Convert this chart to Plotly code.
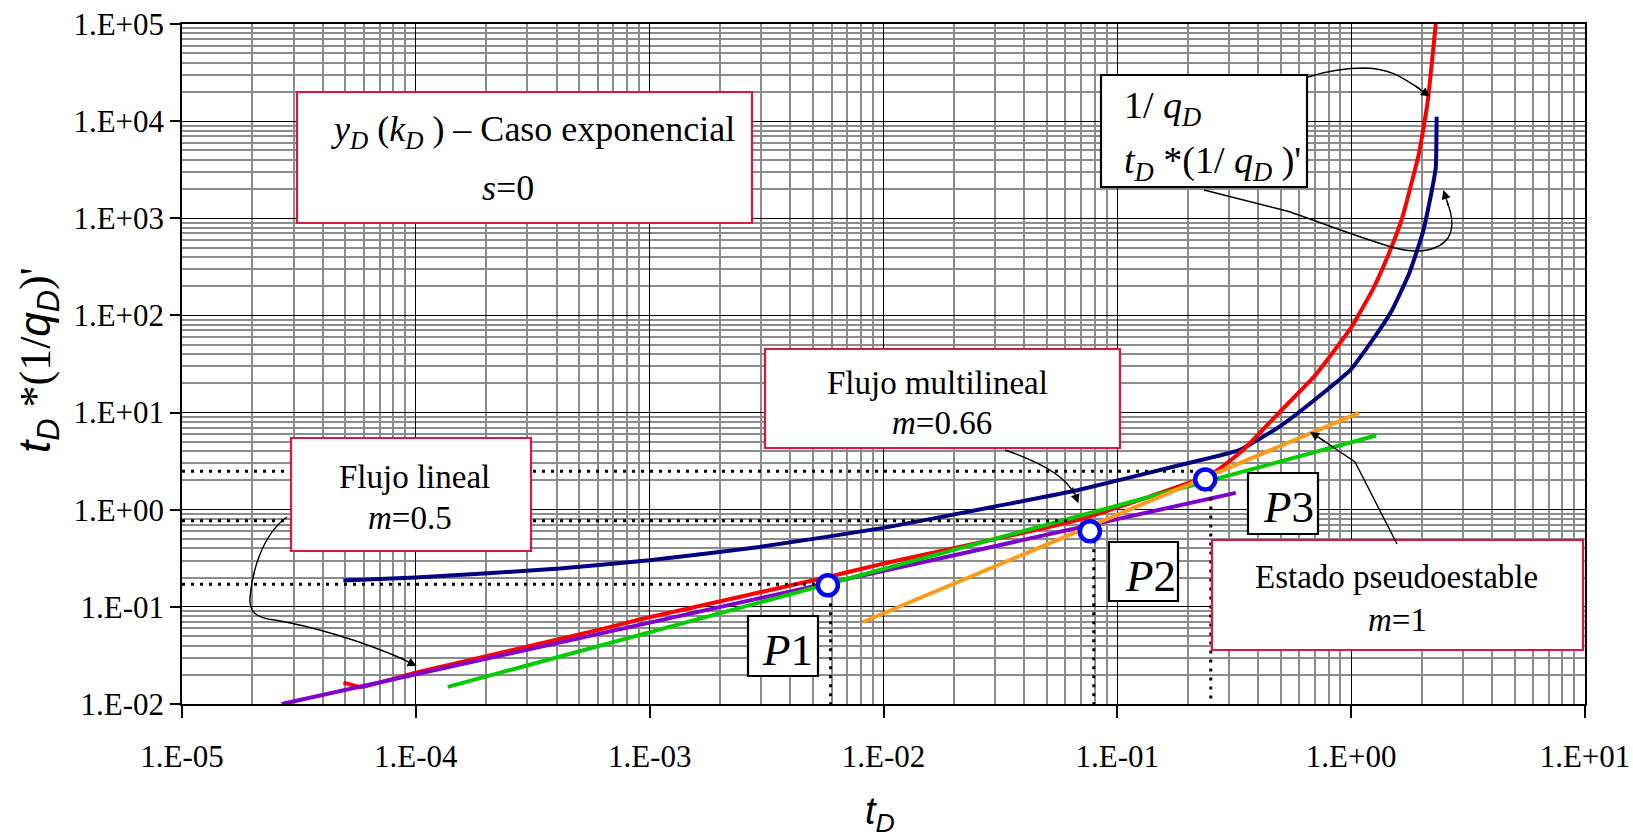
import plotly.graph_objects as go

# ---------------- data ----------------
# 1/qD response
td_inv_q = [4.9e-5, 5.86e-5, 1e-4, 6.1e-4, 9.05e-4, 5.78e-3, 1e-2, 0.0675, 0.255, 0.344,
            0.492, 0.70, 1.0, 1.233, 1.45, 1.65, 1.95, 2.12, 2.22, 2.30]
inv_q = [0.0166, 0.0150, 0.021, 0.0583, 0.074, 0.203, 0.279, 0.78, 2.36, 4.1,
         10.0, 24.0, 75.0, 182, 435, 1000, 4660, 15240, 42600, 1.0e5]

# tD*(1/qD)' derivative
td_deriv = [4.9e-5, 1e-4, 4.12e-4, 1e-3, 2.95e-3, 1e-2, 0.03, 0.0675, 0.184, 0.332,
            0.492, 0.684, 1.0, 1.318, 1.5, 1.77, 2.02, 2.2, 2.30, 2.32]
deriv = [0.187, 0.20, 0.248, 0.302, 0.414, 0.65, 1.08, 1.585, 2.87, 4.1,
         7.13, 13.0, 28.0, 70.0, 115.0, 270, 699, 1800, 3300, 11100]

# flow-regime straight lines
linear_td = [2.67e-5, 0.321]
linear_val = [0.01, 1.49]
multilinear_td = [1.37e-4, 1.28]
multilinear_val = [0.015, 5.81]
pss_td = [0.00817, 1.08]
pss_val = [0.0699, 9.93]

# intersection points
point_names = ["P1", "P2", "P3"]
point_td = [0.00578, 0.0763, 0.2377]
point_val = [0.1667, 0.600, 2.05]

# dotted read-off guides
guide_levels = [0.171, 0.771, 2.49]
guide_level_end_td = [0.0056, 0.0635, 0.213]
guide_td = [0.00594, 0.0793, 0.251]

x_tick_vals = [1e-5, 1e-4, 1e-3, 1e-2, 1e-1, 1, 10]
x_tick_text = ["1.E-05", "1.E-04", "1.E-03", "1.E-02", "1.E-01", "1.E+00", "1.E+01"]
y_tick_vals = [1e-2, 1e-1, 1, 10, 100, 1e3, 1e4, 1e5]
y_tick_text = ["1.E-02", "1.E-01", "1.E+00", "1.E+01", "1.E+02", "1.E+03", "1.E+04", "1.E+05"]

# ---------------- layout helpers ----------------
W, H = 1633, 837
ML, MR, MT, MB = 182, 48, 24, 133
PW, PH = W - ML - MR, H - MT - MB
SERIF = "Liberation Serif"
SANS = "Liberation Sans"
BOX_RED = "#DC1640"


def fx(xp):
    return (xp - ML) / PW


def fy(yp):
    return (MT + PH - yp) / PH


def path_to_paper(cmds):
    out = []
    for c, pts in cmds:
        out.append(c + " " + " ".join(f"{fx(a):.5f},{fy(b):.5f}" for a, b in pts))
    return " ".join(out)


def decade_minor(lo, hi):
    return [k * 10.0 ** e for e in range(lo, hi) for k in range(2, 10)]


fig = go.Figure()

fig.add_trace(go.Scatter(x=td_deriv, y=deriv, mode="lines",
                         line=dict(color="#000080", width=4, shape="spline", smoothing=0.4),
                         name="tD*(1/qD)'"))
fig.add_trace(go.Scatter(x=td_inv_q, y=inv_q, mode="lines",
                         line=dict(color="#FF0000", width=4, shape="spline", smoothing=0.4),
                         name="1/qD"))
fig.add_trace(go.Scatter(x=linear_td, y=linear_val, mode="lines",
                         line=dict(color="#8000CC", width=4), name="m=0.5"))
fig.add_trace(go.Scatter(x=multilinear_td, y=multilinear_val, mode="lines",
                         line=dict(color="#00CC00", width=4), name="m=0.66"))
fig.add_trace(go.Scatter(x=pss_td, y=pss_val, mode="lines",
                         line=dict(color="#FF9A1A", width=4), name="m=1"))

# dotted guides
for lvl, xe in zip(guide_levels, guide_level_end_td):
    fig.add_trace(go.Scatter(x=[x_tick_vals[0], xe], y=[lvl, lvl], mode="lines",
                             line=dict(color="black", width=3, dash="3px,6px")))
for xg, yv in zip(guide_td, point_val):
    fig.add_trace(go.Scatter(x=[xg, xg], y=[yv, y_tick_vals[0]], mode="lines",
                             line=dict(color="black", width=3, dash="3px,6px")))

fig.add_trace(go.Scatter(x=point_td, y=point_val, mode="markers",
                         marker=dict(symbol="circle", size=20, color="white",
                                     line=dict(color="#0000FF", width=4.5)),
                         name="P"))

# ---------------- boxes, connectors, texts ----------------
shapes = []
boxes = [
    (297, 92, 752, 223, BOX_RED),
    (765, 349, 1120, 448, BOX_RED),
    (291, 438, 531, 551, BOX_RED),
    (1212, 540, 1583, 650, BOX_RED),
    (1101, 75, 1307, 187, "black"),
    (748, 616, 818, 676, "black"),
    (1109, 542, 1178, 601, "black"),
    (1248, 473, 1318, 534, "black"),
]
for x0, y0, x1, y1, col in boxes:
    shapes.append(dict(type="rect", xref="paper", yref="paper",
                       x0=fx(x0), x1=fx(x1), y0=fy(y1), y1=fy(y0),
                       line=dict(color=col, width=2.2), fillcolor="white", layer="above"))

connectors = [
    [("M", [(287, 517)]), ("C", [(262, 535), (252, 572), (250, 598)]),
     ("C", [(249, 612), (256, 618), (275, 620)]), ("C", [(310, 626), (360, 640), (405, 660)])],
    [("M", [(1005, 450)]), ("C", [(1040, 462), (1066, 476), (1074, 494)])],
    [("M", [(1308, 77)]), ("C", [(1330, 70), (1345, 68), (1365, 68)]),
     ("C", [(1390, 69), (1400, 76), (1420, 89)])],
    [("M", [(1204, 190)]), ("L", [(1287, 211)]), ("C", [(1320, 222), (1360, 238), (1395, 248)]),
     ("C", [(1422, 255), (1440, 249), (1448, 238)]), ("C", [(1454, 228), (1452, 214), (1447, 202)])],
    [("M", [(1397, 544)]), ("L", [(1355, 462)]), ("L", [(1318, 437)])],
]
for c in connectors:
    shapes.append(dict(type="path", xref="paper", yref="paper", path=path_to_paper(c),
                       line=dict(color="black", width=1.4), layer="above"))

annotations = []
# arrowheads: (tip, tail)
heads = [((416.7, 666), (398, 657)), ((1078.3, 503.3), (1072, 486)),
         ((1430, 96.5), (1414, 85)), ((1443.3, 190), (1449, 207)),
         ((1310, 432), (1326, 442))]
for (tx, ty), (sx, sy) in heads:
    annotations.append(dict(x=fx(tx), y=fy(ty), xref="paper", yref="paper", text="",
                            showarrow=True, arrowhead=2, arrowsize=1.3, arrowwidth=1.4,
                            arrowcolor="black", ax=sx - tx, ay=sy - ty, standoff=0))

texts = [
    ("<i>y<sub>D</sub></i> (<i>k<sub>D</sub></i> ) – Caso exponencial", 533, 131, 36, "center"),
    ("<i>s</i>=0", 508, 188, 36, "center"),
    ("Flujo multilineal", 937, 383, 33, "center"),
    ("<i>m</i>=0.66", 942, 423, 33, "center"),
    ("Flujo lineal", 414, 477, 33, "center"),
    ("<i>m</i>=0.5", 410, 518, 33, "center"),
    ("Estado pseudoestable", 1396, 577, 33, "center"),
    ("<i>m</i>=1", 1397, 620, 33, "center"),
    ("1/ <i>q<sub>D</sub></i>", 1122, 108, 38, "left"),
    ("<i>t<sub>D</sub></i> *(1/ <i>q<sub>D</sub></i> )'", 1122, 163, 38, "left"),
]
for t, x, y, s, anc in texts:
    annotations.append(dict(x=fx(x), y=fy(y), xref="paper", yref="paper", text=t,
                            showarrow=False, xanchor=anc, yanchor="middle",
                            font=dict(family=SERIF, size=s, color="black")))

p_label_pos = [(787, 650), (1150, 576), (1288, 507)]
for name, (x, y) in zip(point_names, p_label_pos):
    annotations.append(dict(x=fx(x), y=fy(y), xref="paper", yref="paper",
                            text=f"<i>{name[0]}</i>{name[1:]}", showarrow=False,
                            xanchor="center", yanchor="middle",
                            font=dict(family=SERIF, size=45, color="black")))

# axis titles
annotations.append(dict(x=fx(880), y=fy(814), xref="paper", yref="paper",
                        xanchor="center", yanchor="middle",
                        text="<i>t<sub>D</sub></i>", showarrow=False,
                        font=dict(family=SANS, size=38, color="black")))
annotations.append(dict(x=fx(38), y=fy(360), xref="paper", yref="paper",
                        xanchor="center", yanchor="middle",
                        text=f'<span style="font-family:{SANS}"><i>t<sub>D</sub></i></span>'
                             f' *(1/<span style="font-family:{SANS}"><i>q<sub>D</sub></i></span>)\'',
                        showarrow=False, textangle=-90,
                        font=dict(family=SERIF, size=44, color="black")))

axis_common = dict(type="log", showline=True, linecolor="black", linewidth=1.5, mirror=True,
                   showgrid=True, gridcolor="black", gridwidth=1.4,
                   ticks="outside", tickcolor="black", tickwidth=1.5,
                   tickfont=dict(family=SERIF, size=31, color="black"),
                   tickmode="array", zeroline=False, automargin=False)

fig.update_layout(
    width=W, height=H,
    margin=dict(l=ML, r=MR, t=MT, b=MB, autoexpand=False),
    paper_bgcolor="white", plot_bgcolor="white",
    showlegend=False,
    xaxis=dict(axis_common, range=[-5, 1], tickvals=x_tick_vals, ticktext=x_tick_text,
               ticklen=12, ticklabelstandoff=12,
               minor=dict(tickmode="array", tickvals=decade_minor(-5, 1), showgrid=True,
                          gridcolor="#8c8c8c", gridwidth=1.6, ticks="")),
    yaxis=dict(axis_common, range=[-2, 5], tickvals=y_tick_vals, ticktext=y_tick_text,
               ticklen=10, ticklabelstandoff=0,
               minor=dict(tickmode="array", tickvals=decade_minor(-2, 5), showgrid=True,
                          gridcolor="#8c8c8c", gridwidth=1.6, ticks="")),
    shapes=shapes,
    annotations=annotations,
)

fig.write_html("out.html")
